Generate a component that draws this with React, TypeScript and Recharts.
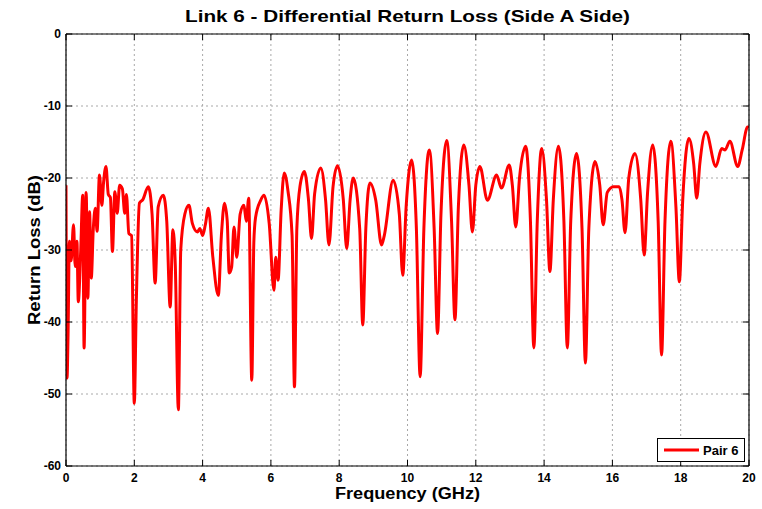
import React from "react";
import { LineChart, Line, XAxis, YAxis, CartesianGrid, Legend, Label } from "recharts";

const freqGHz = [
  0, 0.03, 0.06, 0.1, 0.15, 0.22, 0.27, 0.32, 0.36, 0.43, 0.49, 0.53, 0.59, 0.64, 0.69, 0.74, 0.8, 0.86, 0.91, 0.98,
  1.05, 1.1, 1.17, 1.24, 1.3, 1.36, 1.43, 1.5, 1.57, 1.65, 1.72, 1.77, 1.84, 1.92, 2.0, 2.06, 2.15, 2.25, 2.41, 2.52,
  2.61, 2.7, 2.85, 2.95, 3.05, 3.13, 3.2, 3.29, 3.36, 3.48, 3.6, 3.7, 3.85, 3.92, 4.0, 4.08, 4.17, 4.3, 4.46, 4.55,
  4.64, 4.72, 4.78, 4.85, 4.92, 5.0, 5.1, 5.21, 5.28, 5.35, 5.44, 5.5, 5.55, 5.7, 5.8, 5.95, 6.09, 6.14, 6.21, 6.3,
  6.39, 6.5, 6.62, 6.69, 6.76, 6.85, 6.98, 7.1, 7.19, 7.28, 7.46, 7.6, 7.7, 7.82, 7.95, 8.12, 8.22, 8.32, 8.41, 8.6,
  8.69, 8.78, 8.9, 9.07, 9.24, 9.32, 9.58, 9.76, 9.86, 9.96, 10.12, 10.26, 10.37, 10.48, 10.64, 10.78, 10.88, 10.98, 11.15, 11.29,
  11.39, 11.49, 11.65, 11.8, 11.9, 12.0, 12.12, 12.34, 12.61, 12.75, 12.98, 13.07, 13.17, 13.28, 13.46, 13.6, 13.7, 13.8, 13.93, 14.07,
  14.17, 14.27, 14.42, 14.58, 14.68, 14.78, 14.95, 15.11, 15.21, 15.31, 15.49, 15.63, 15.73, 15.85, 16.03, 16.2, 16.28, 16.37, 16.48, 16.66,
  16.83, 16.93, 17.03, 17.18, 17.34, 17.44, 17.54, 17.71, 17.86, 17.96, 18.06, 18.24, 18.38, 18.47, 18.56, 18.74, 19.03, 19.2, 19.3, 19.44,
  19.67, 19.8, 19.96, 20,
];

const pair6Db = [
  -21, -47.8, -41.8, -28.8, -31.5, -26.5, -32.3, -28.8, -37.2, -30.2, -22.4, -43.6, -22.0, -36.7, -24.7, -33.9, -27, -24.2, -27.4, -19.6,
  -23.8, -20.6, -18.4, -22.3, -22.7, -30.2, -21.9, -24.9, -21, -21.5, -24.9, -22.3, -27.7, -28, -51.3, -37, -23.5, -23, -21.2, -25,
  -34.6, -24, -22.4, -26, -37.9, -27.2, -32, -52.2, -30, -25, -23.8, -26.3, -27.5, -27, -28, -26.5, -24.2, -31, -36.3, -28,
  -23.5, -25.9, -33.2, -32.4, -26.8, -31, -25, -23.8, -26, -22.8, -48.1, -29, -25.5, -23.1, -22.4, -26.3, -35.6, -31, -34.2, -24.5,
  -19.3, -21.8, -28, -49, -27, -21.2, -19.1, -23, -28.4, -22.2, -18.6, -23, -29.3, -21.2, -18.3, -23, -29.8, -23, -20, -27,
  -40.4, -27, -20.7, -23.1, -29.3, -28, -20.3, -25, -33.5, -24, -17.5, -27, -47.6, -27, -16.1, -27, -41.6, -25, -14.8, -26,
  -39.7, -24, -15.4, -21, -27.5, -21, -18.4, -23.1, -19.6, -21.4, -18.2, -21, -26.8, -20, -15.6, -26, -43.6, -26, -15.9, -23,
  -33, -23, -15.6, -26, -43.6, -26, -16.6, -27, -45.7, -27, -17.7, -21, -26.5, -22, -21.2, -21.2, -23, -27.6, -20, -16.6,
  -23, -30.7, -22, -15.4, -26, -44.6, -26, -14.9, -24, -34.4, -23, -14.5, -18, -22.8, -18, -13.6, -18.4, -15.9, -16.1, -14.9,
  -18.4, -16.1, -12.9, -13,
];

const xTicks = [0, 2, 4, 6, 8, 10, 12, 14, 16, 18, 20];
const yTicks = [-60, -50, -40, -30, -20, -10, 0];

const titleText = "Link 6 - Differential Return Loss (Side A Side)";
const xLabelText = "Frequency (GHz)";
const yLabelText = "Return Loss (dB)";
const seriesName = "Pair 6";

const data = freqGHz.map((f, i) => ({ f, v: pair6Db[i] }));

const FONT = "'Liberation Sans', Arial, Helvetica, sans-serif";
const TL = 6;

const BottomTick = (p: any) => (
  <g>
    <line x1={p.x} y1={p.y} x2={p.x} y2={p.y - TL} stroke="#000" strokeWidth={1} />
    <text x={p.x} y={p.y + 16} textAnchor="middle" fontFamily={FONT} fontWeight="bold" fontSize={12} fill="#000">
      {p.payload.value}
    </text>
  </g>
);
const TopTick = (p: any) => (
  <line x1={p.x} y1={p.y} x2={p.x} y2={p.y + TL} stroke="#000" strokeWidth={1} />
);
const LeftTick = (p: any) => (
  <g>
    <line x1={p.x} y1={p.y} x2={p.x + TL} y2={p.y} stroke="#000" strokeWidth={1} />
    <text x={p.x - 5} y={p.y + 4} textAnchor="end" fontFamily={FONT} fontWeight="bold" fontSize={12} fill="#000">
      {p.payload.value}
    </text>
  </g>
);
const RightTick = (p: any) => (
  <line x1={p.x} y1={p.y} x2={p.x - TL} y2={p.y} stroke="#000" strokeWidth={1} />
);

const LegendBox = () => (
  <svg width={88} height={24} style={{ display: "block" }}>
    <rect x={0.5} y={0.5} width={87} height={23} fill="#fff" stroke="#000" strokeWidth={1} />
    <line x1={7} y1={12} x2={42} y2={12} stroke="#ff0000" strokeWidth={3} />
    <text x={46} y={17} fontFamily={FONT} fontWeight="bold" fontSize={13} fill="#000">
      {seriesName}
    </text>
  </svg>
);

export default function App() {
  return (
    <div style={{ position: "absolute", left: 0, top: 0, width: 762, height: 509, background: "#fff" }}>
      <LineChart width={762} height={509} data={data} margin={{ top: 33, right: 12, bottom: 42, left: 0 }}>
        <CartesianGrid stroke="#a8a8a8" strokeDasharray="2 3" strokeWidth={1} />
        <XAxis
          dataKey="f"
          type="number"
          domain={[0, 20]}
          ticks={xTicks}
          interval={0}
          height={1}
          tickSize={0}
          tickMargin={0}
          tick={BottomTick}
          tickLine={false}
          axisLine={{ stroke: "#000", strokeWidth: 1.2 }}
          allowDataOverflow
        >
          <Label
            content={(props: any) => {
              const vb = props.viewBox || {};
              return (
                <text
                  x={vb.x + vb.width / 2}
                  y={499}
                  textAnchor="middle"
                  fontFamily={FONT}
                  fontWeight="bold"
                  fontSize={16}
                  textLength={145}
                  lengthAdjust="spacingAndGlyphs"
                  fill="#000"
                >
                  {xLabelText}
                </text>
              );
            }}
          />
        </XAxis>
        <XAxis
          xAxisId="top"
          orientation="top"
          dataKey="f"
          type="number"
          domain={[0, 20]}
          ticks={xTicks}
          interval={0}
          height={1}
          tickSize={0}
          tickMargin={0}
          tick={TopTick}
          tickLine={false}
          axisLine={{ stroke: "#000", strokeWidth: 1.2 }}
          allowDataOverflow
        >
          <Label
            content={(props: any) => {
              const vb = props.viewBox || {};
              return (
                <text
                  x={vb.x + vb.width / 2}
                  y={22}
                  textAnchor="middle"
                  fontFamily={FONT}
                  fontWeight="bold"
                  fontSize={17}
                  textLength={445}
                  lengthAdjust="spacingAndGlyphs"
                  fill="#000"
                >
                  {titleText}
                </text>
              );
            }}
          />
        </XAxis>
        <YAxis
          type="number"
          domain={[-60, 0]}
          ticks={yTicks}
          interval={0}
          width={66}
          tickSize={0}
          tickMargin={0}
          tick={LeftTick}
          tickLine={false}
          axisLine={{ stroke: "#000", strokeWidth: 1.2 }}
          allowDataOverflow
        >
          <Label
            content={(props: any) => {
              const vb = props.viewBox || {};
              const cy = vb.y + vb.height / 2;
              return (
                <text
                  x={40}
                  y={cy}
                  transform={`rotate(-90, 40, ${cy})`}
                  textAnchor="middle"
                  fontFamily={FONT}
                  fontWeight="bold"
                  fontSize={16}
                  textLength={150}
                  lengthAdjust="spacingAndGlyphs"
                  fill="#000"
                >
                  {yLabelText}
                </text>
              );
            }}
          />
        </YAxis>
        <YAxis
          yAxisId="right"
          orientation="right"
          type="number"
          domain={[-60, 0]}
          ticks={yTicks}
          interval={0}
          width={1}
          tickSize={0}
          tickMargin={0}
          tick={RightTick}
          tickLine={false}
          axisLine={{ stroke: "#000", strokeWidth: 1.2 }}
          allowDataOverflow
        />
        <Line
          type="monotone"
          dataKey="v"
          name={seriesName}
          stroke="#ff0000"
          strokeWidth={3}
          dot={false}
          activeDot={false}
          isAnimationActive={false}
        />
        <Legend
          layout="vertical"
          align="center"
          verticalAlign="middle"
          content={() => <LegendBox />}
          wrapperStyle={{ position: "absolute", left: 657, top: 438, width: 88, height: 24 }}
        />
      </LineChart>
    </div>
  );
}
